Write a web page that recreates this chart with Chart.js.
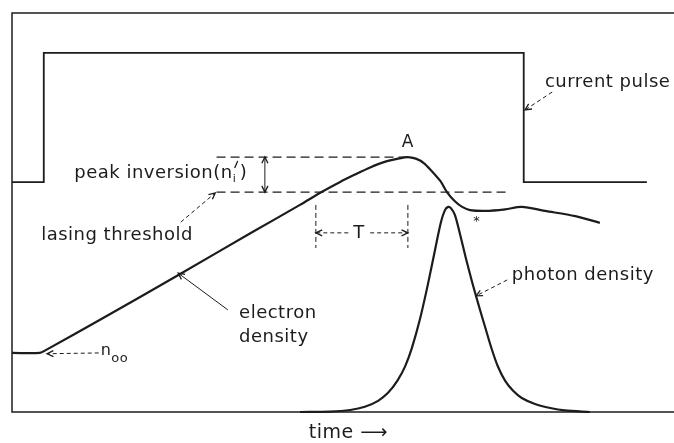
<!DOCTYPE html>
<html>
<head>
<meta charset="utf-8">
<style>
  html, body { margin: 0; padding: 0; background: #fff; }
</style>
</head>
<body>
<canvas id="laserChart" width="674" height="443"></canvas>
<script src="https://cdn.jsdelivr.net/npm/chart.js@4/dist/chart.umd.min.js"></script>
<script>
// Time runs 0..100 across the box, level runs 0..100 from bottom to top.
var pulseTime  = [0, 4.8, 4.8, 77.3, 77.3, 95.9];
var pulseLevel = [57.6, 57.6, 90.0, 90.0, 57.6, 57.6];

var electronTime  = [0, 4.2, 5.1, 13.3, 25.4, 36.0, 43.5, 46.5, 49.5, 51.8, 54.1, 56.3, 58.3, 59.8,
                     61.0, 62.2, 63.4, 64.7, 65.7, 66.9, 68.0, 69.2, 71.5, 74.5, 77.0, 80.5, 85.1, 88.8];
var electronLevel = [14.8, 14.8, 15.5, 23.1, 34.6, 44.8, 51.9, 54.9, 57.6, 59.5, 61.3, 62.7, 63.5, 63.9,
                     63.5, 62.4, 60.4, 57.9, 55.1, 52.8, 51.4, 50.6, 50.4, 50.8, 51.4, 50.4, 49.1, 47.4];

var photonTime  = [43.5, 48.0, 51.1, 53.3, 55.3, 56.8, 58.2, 59.4, 60.4, 61.6, 62.8, 63.9, 64.8, 65.4,
                   65.9, 66.3, 66.9, 67.7, 68.6, 69.5, 70.4, 71.5, 72.5, 73.4, 74.5, 75.7, 77.0,
                   79.0, 81.3, 83.5, 87.3];
var photonLevel = [0, 0.1, 0.5, 1.3, 2.8, 4.8, 7.8, 11.5, 16.0, 23.1, 31.8, 40.6, 47.6, 50.6,
                   51.4, 51.1, 49.4, 44.4, 38.3, 32.6, 27.3, 21.1, 15.6, 11.4, 7.8, 5.3, 3.5,
                   2.0, 1.0, 0.4, 0];

var thresholdLevel = 55.1;
var peakLevel = 63.9;
var thresholdSpan = [30.9, 75.2];
var peakSpan = [30.9, 59.8];
var delaySpan = [45.9, 59.8];   // the delay T, from threshold crossing to peak A

var ink = '#1c1c1c';
var face = '"DejaVu Sans", sans-serif';

function toPoints(xs, ys) {
  return xs.map(function(x, i) { return { x: x, y: ys[i] }; });
}

function flat(span, level) {
  return [{ x: span[0], y: level }, { x: span[1], y: level }];
}

// Arrow from (x1,y1) to (x2,y2) in data units, head at the second end.
function arrow(ctx, chart, x1, y1, x2, y2, dash, bothEnds) {
  var sx = chart.scales.x, sy = chart.scales.y;
  var ax = sx.getPixelForValue(x1), ay = sy.getPixelForValue(y1);
  var bx = sx.getPixelForValue(x2), by = sy.getPixelForValue(y2);
  ctx.save();
  ctx.strokeStyle = ink;
  ctx.lineWidth = 1;
  ctx.setLineDash(dash ? [4, 3] : []);
  ctx.beginPath();
  ctx.moveTo(ax, ay);
  ctx.lineTo(bx, by);
  ctx.stroke();
  ctx.setLineDash([]);
  ctx.lineWidth = 1.3;
  function head(px, py, qx, qy) {
    var a = Math.atan2(qy - py, qx - px);
    ctx.beginPath();
    ctx.moveTo(qx - 7 * Math.cos(a - 0.45), qy - 7 * Math.sin(a - 0.45));
    ctx.lineTo(qx, qy);
    ctx.lineTo(qx - 7 * Math.cos(a + 0.45), qy - 7 * Math.sin(a + 0.45));
    ctx.stroke();
  }
  head(ax, ay, bx, by);
  if (bothEnds) head(bx, by, ax, ay);
  ctx.restore();
}

function label(ctx, chart, text, x, y, size, align) {
  var px = chart.scales.x.getPixelForValue(x);
  var py = chart.scales.y.getPixelForValue(y);
  ctx.font = size + 'px ' + face;
  ctx.textAlign = align || 'left';
  ctx.textBaseline = 'middle';
  ctx.fillText(text, px, py);
  return { x: px + ctx.measureText(text).width, y: py };
}

var notesPlugin = {
  id: 'notes',
  beforeDatasetsDraw: function(chart) {
    var ctx = chart.ctx, a = chart.chartArea;
    ctx.save();
    ctx.strokeStyle = ink;
    ctx.lineWidth = 1.5;
    ctx.beginPath();
    ctx.moveTo(a.right + 2, a.top);
    ctx.lineTo(a.left, a.top);
    ctx.lineTo(a.left, a.bottom);
    ctx.lineTo(a.right + 2, a.bottom);
    ctx.stroke();
    ctx.restore();
  },
  afterDatasetsDraw: function(chart) {
    var ctx = chart.ctx;
    ctx.save();
    ctx.fillStyle = ink;
    ctx.letterSpacing = '0.5px';

    label(ctx, chart, 'current pulse', 80.5, 82.7, 18);
    var end = label(ctx, chart, 'peak inversion(n', 9.4, 59.9, 18);
    // prime and subscript i on the n
    ctx.strokeStyle = ink;
    ctx.lineWidth = 1.3;
    ctx.beginPath();
    ctx.moveTo(end.x + 5, end.y - 12);
    ctx.lineTo(end.x + 2, end.y - 5);
    ctx.stroke();
    ctx.font = '11px ' + face;
    ctx.fillText('i', end.x, end.y + 6);
    ctx.font = '18px ' + face;
    ctx.fillText(')', end.x + 7, end.y);
    label(ctx, chart, 'lasing threshold', 4.4, 44.4, 18);
    label(ctx, chart, 'T', 52.4, 44.9, 18, 'center');
    label(ctx, chart, 'electron', 34.3, 24.8, 18);
    label(ctx, chart, 'density', 34.3, 18.8, 18);
    end = label(ctx, chart, 'n', 13.4, 15.3, 16);
    ctx.font = '13px ' + face;
    ctx.fillText('oo', end.x, end.y + 8);
    label(ctx, chart, 'photon density', 75.5, 34.3, 18);
    label(ctx, chart, 'A', 59.8, 67.4, 17, 'center');
    label(ctx, chart, '*', 70.2, 47.6, 13, 'center');
    label(ctx, chart, 'time \u27F6', 50.8, -5.3, 19, 'center');

    arrow(ctx, chart, 81.6, 80.2, 77.5, 75.7, true);
    arrow(ctx, chart, 25.5, 47.6, 30.7, 54.9, true);
    arrow(ctx, chart, 32.6, 25.6, 25.1, 34.8, false);
    arrow(ctx, chart, 74.8, 33.1, 70.1, 29.1, true);
    arrow(ctx, chart, 13.1, 14.8, 5.3, 14.6, true);
    arrow(ctx, chart, 38.2, thresholdLevel, 38.2, peakLevel, false, true);
    arrow(ctx, chart, 50.8, 44.9, delaySpan[0], 44.9, true);
    arrow(ctx, chart, 54.1, 44.9, delaySpan[1], 44.9, true);

    // end markers of the delay T
    var sx = chart.scales.x, sy = chart.scales.y;
    ctx.strokeStyle = ink;
    ctx.lineWidth = 1;
    ctx.setLineDash([5, 3]);
    delaySpan.forEach(function(t) {
      ctx.beginPath();
      ctx.moveTo(sx.getPixelForValue(t), sy.getPixelForValue(51.9));
      ctx.lineTo(sx.getPixelForValue(t), sy.getPixelForValue(41.1));
      ctx.stroke();
    });
    ctx.restore();
  }
};

var ctx = document.getElementById('laserChart').getContext('2d');

var lineStyle = { showLine: true, pointRadius: 0, borderColor: ink, fill: false, clip: false };

var chart = new Chart(ctx, {
  type: 'scatter',
  data: {
    datasets: [
      Object.assign({ label: 'current pulse', data: toPoints(pulseTime, pulseLevel),
        borderWidth: 1.8, tension: 0 }, lineStyle),
      Object.assign({ label: 'electron density', data: toPoints(electronTime, electronLevel),
        borderWidth: 2.2, tension: 0.3 }, lineStyle),
      Object.assign({ label: 'photon density', data: toPoints(photonTime, photonLevel),
        borderWidth: 2.2, tension: 0.3 }, lineStyle),
      Object.assign({ label: 'peak inversion', data: flat(peakSpan, peakLevel),
        borderWidth: 1.2, borderDash: [9, 5] }, lineStyle),
      Object.assign({ label: 'lasing threshold', data: flat(thresholdSpan, thresholdLevel),
        borderWidth: 1.2, borderDash: [9, 5] }, lineStyle)
    ]
  },
  options: {
    responsive: false,
    animation: false,
    devicePixelRatio: 1,
    layout: { padding: { left: 12, top: 13, right: 0, bottom: 31 } },
    plugins: { legend: { display: false }, tooltip: { enabled: false } },
    scales: {
      x: { type: 'linear', min: 0, max: 100, display: false },
      y: { type: 'linear', min: 0, max: 100, display: false }
    }
  },
  plugins: [notesPlugin]
});
</script>
</body>
</html>
